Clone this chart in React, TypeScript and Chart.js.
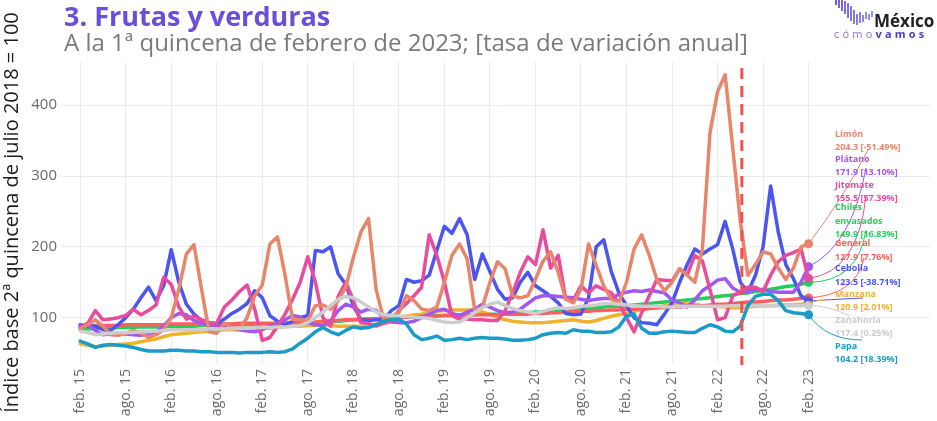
import React, { useEffect, useRef } from 'react';
import { Chart, registerables } from 'chart.js';
Chart.register(...registerables);

// x = month index, 0 = feb. 2015 ... 96 = feb. 2023
const TICK_POS = [0, 6, 12, 18, 24, 30, 36, 42, 48, 54, 60, 66, 72, 78, 84, 90, 96];
const TICK_LABELS = ['feb. 15', 'ago. 15', 'feb. 16', 'ago. 16', 'feb. 17', 'ago. 17', 'feb. 18', 'ago. 18', 'feb. 19', 'ago. 19', 'feb. 20', 'ago. 20', 'feb. 21', 'ago. 21', 'feb. 22', 'ago. 22', 'feb. 23'];
const Y_TICKS = [100, 200, 300, 400];
const DASH_X = 87.2;

const limon = [84, 90, 97, 88, 76, 75, 78, 82, 78, 72,
  76, 83, 100, 140, 190, 203, 140, 80, 78, 92,
  86, 84, 100, 131, 146, 204, 214, 160, 97, 97,
  96, 117, 118, 112, 124, 143, 185, 221, 240, 140,
  97, 102, 107, 131, 124, 112, 110, 115, 150, 188,
  204, 183, 111, 115, 150, 179, 169, 131, 128, 131,
  154, 180, 193, 164, 126, 121, 140, 204, 174, 145,
  126, 121, 150, 197, 217, 188, 154, 138, 150, 169,
  160, 150, 197, 361, 419, 443, 340, 236, 160, 175,
  193, 190, 170, 154, 170, 200, 204.3];
const platano = [88, 90, 82, 76, 77, 78, 77, 76, 75, 77,
  80, 88, 100, 106, 104, 96, 92, 90, 89, 88,
  86, 83, 81, 80, 83, 88, 92, 97, 103, 101,
  93, 90, 89, 95, 110, 119, 115, 108, 112, 110,
  100, 94, 93, 93, 95, 100, 105, 110, 112, 106,
  103, 108, 112, 119, 115, 110, 107, 108, 112, 120,
  128, 131, 131, 130, 129, 128, 126, 124, 126, 127,
  127, 133, 136, 138, 137, 139, 137, 135, 125, 121,
  115, 125, 138, 145, 153, 155, 142, 136, 137, 139,
  140, 137, 136, 136, 136, 150, 171.9];
const jitomate = [86, 92, 110, 97, 98, 100, 103, 112, 104, 110,
  118, 157, 147, 115, 98, 102, 97, 93, 92, 115,
  125, 137, 146, 112, 68, 72, 88, 105, 126, 150,
  186, 150, 100, 88, 130, 150, 125, 93, 92, 88,
  92, 95, 110, 120, 131, 143, 217, 188, 150, 103,
  98, 98, 97, 97, 96, 96, 110, 135, 164, 186,
  175, 224, 170, 188, 126, 125, 145, 135, 145, 140,
  135, 120, 100, 80, 107, 131, 154, 153, 152, 169,
  160, 188, 180, 140, 97, 100, 131, 136, 143, 143,
  137, 160, 179, 188, 192, 197, 155.5];
const chiles = [84, 84, 85, 85, 85, 86, 86, 86, 87, 87,
  87, 87, 88, 88, 88, 88, 89, 89, 89, 89,
  90, 90, 90, 90, 91, 91, 91, 91, 92, 92,
  92, 93, 93, 94, 95, 96, 97, 97, 98, 98,
  99, 100, 100, 101, 101, 102, 102, 103, 103, 103,
  104, 104, 104, 105, 105, 105, 106, 106, 107, 107,
  108, 108, 109, 110, 110, 111, 112, 113, 114, 115,
  116, 116, 117, 118, 119, 120, 121, 122, 123, 124,
  125, 126, 127, 128, 130, 131, 132, 134, 135, 137,
  138, 140, 142, 144, 145, 147, 149.9];
const general = [88, 88, 89, 89, 89, 89, 90, 90, 90, 90,
  90, 90, 91, 91, 91, 91, 91, 91, 91, 91,
  91, 92, 92, 92, 92, 92, 92, 93, 93, 93,
  93, 94, 95, 96, 96, 97, 97, 98, 98, 99,
  99, 100, 100, 101, 101, 102, 102, 102, 103, 103,
  103, 104, 104, 104, 104, 104, 105, 105, 105, 105,
  106, 106, 107, 107, 108, 108, 109, 109, 110, 110,
  111, 111, 112, 112, 113, 113, 114, 114, 115, 115,
  116, 117, 117, 118, 119, 119, 120, 121, 122, 122,
  123, 124, 125, 125, 126, 127, 127.9];
const cebolla = [90, 88, 88, 83, 82, 90, 100, 112, 128, 143,
  124, 145, 196, 150, 119, 105, 96, 93, 91, 98,
  106, 112, 120, 138, 128, 103, 95, 90, 95, 100,
  103, 195, 193, 200, 162, 147, 117, 97, 96, 97,
  97, 110, 117, 154, 150, 152, 160, 195, 229, 219,
  240, 217, 154, 190, 165, 140, 126, 128, 150, 164,
  145, 138, 130, 121, 106, 104, 105, 128, 200, 210,
  165, 135, 117, 100, 93, 92, 90, 105, 121, 150,
  175, 197, 190, 197, 203, 236, 197, 150, 136, 160,
  200, 286, 221, 175, 155, 131, 123.5];
const manzana = [63, 61, 59, 60, 61, 62, 63, 64, 66, 68,
  70, 73, 76, 77, 78, 79, 80, 81, 82, 83,
  83, 83, 83, 84, 85, 85, 86, 87, 88, 88,
  89, 89, 90, 89, 88, 88, 88, 88, 89, 91,
  95, 98, 100, 102, 104, 105, 107, 109, 110, 111,
  111, 111, 110, 108, 105, 100, 97, 95, 94, 93,
  93, 93, 94, 95, 96, 97, 95, 94, 96, 99,
  102, 104, 106, 109, 111, 113, 114, 117, 120, 121,
  120, 119, 117, 116, 116, 115, 114, 114, 115, 116,
  117, 117, 118, 118, 118, 119, 120.9];
const zanahoria = [81, 79, 76, 77, 78, 79, 79, 79, 80, 80,
  81, 82, 83, 83, 83, 83, 83, 84, 84, 84,
  85, 85, 85, 86, 86, 86, 87, 87, 88, 89,
  93, 100, 108, 117, 126, 130, 128, 122, 115, 108,
  104, 103, 102, 102, 101, 100, 99, 96, 94, 93,
  94, 100, 107, 114, 119, 122, 117, 113, 110, 108,
  106, 109, 112, 114, 113, 114, 116, 117, 118, 120,
  120, 119, 118, 117, 116, 116, 116, 115, 115, 116,
  116, 116, 116, 116, 116, 116, 117, 117, 117, 117,
  117, 117, 117, 117, 117, 117, 117.4];
const papa = [67, 63, 58, 61, 62, 61, 60, 58, 55, 53,
  53, 53, 54, 54, 53, 53, 52, 52, 51, 51,
  51, 50, 51, 51, 51, 52, 51, 52, 56, 64,
  71, 80, 86, 80, 76, 82, 87, 85, 86, 90,
  95, 97, 98, 91, 76, 69, 71, 74, 68, 69,
  71, 69, 71, 72, 71, 71, 70, 68, 68, 69,
  71, 76, 78, 79, 78, 83, 81, 81, 79, 79,
  80, 87, 102, 105, 85, 78, 78, 80, 81, 80,
  79, 79, 85, 90, 87, 81, 80, 88, 117, 130,
  133, 133, 124, 110, 107, 106, 104.2];

const SERIES_NAMES = ['Limón', 'Plátano', 'Jitomate', 'Chiles envasados', 'General', 'Cebolla', 'Manzana', 'Zanahoria', 'Papa'];
const SERIES_DATA = [limon, platano, jitomate, chiles, general, cebolla, manzana, zanahoria, papa];
const ANNUAL_RATES = [-51.49, 13.10, 57.39, 16.83, 7.76, -38.71, 2.01, 0.25, 18.39];
const COLORS = ['#E9856B', '#A157F2', '#E94C9C', '#22CF5B', '#FF5E5E', '#4B55F0', '#F0B22E', '#CDCDCD', '#1B9BC8'];
// drawing priority: first = top
const DRAW_ORDER = [8, 7, 0, 2, 1, 5, 4, 6, 3];

// label layout (name line(s) y, value line y) and leader line geometry
const LABEL_X = 835;
const LABEL_NAME_LINES = [['Limón'], ['Plátano'], ['Jitomate'], ['Chiles', 'envasados'], ['General'], ['Cebolla'], ['Manzana'], ['Zanahoria'], ['Papa']];
const LABEL_NAME_Y = [[134], [159], [185], [207, 221], [243], [268], [294], [320], [346]];
const LABEL_VALUE_Y = [147, 172, 198, 234, 257, 282, 307, 333, 359];
const LEADER_END = [[868, 150], [866, 168], [866, 196], [866, 230], [864, 258], [863, 298], [826, 300], [850, 316], [862, 340]];
const LEADER_CTRL = [[842, 200], [852, 245], [858, 272], [858, 282], [856, 295], [840, 299], [818, 300], [830, 306], [826, 340]];

const FONT = '"Open Sans", "DejaVu Sans", sans-serif';

const overlay = {
  id: 'overlay',
  afterDatasetsDraw(chart: any) {
    const ctx = chart.ctx;
    const xs = chart.scales.x;
    const ys = chart.scales.y;
    const area = chart.chartArea;
    ctx.save();
    ctx.strokeStyle = '#F0534E';
    ctx.lineWidth = 3;
    ctx.setLineDash([11, 7]);
    const dx = xs.getPixelForValue(DASH_X);
    ctx.beginPath();
    ctx.moveTo(dx, area.top + 6);
    ctx.lineTo(dx, area.bottom + 2);
    ctx.stroke();
    ctx.restore();

    ctx.save();
    ctx.lineWidth = 1;
    SERIES_DATA.forEach((arr, k) => {
      const last = arr.length - 1;
      const px = xs.getPixelForValue(last);
      const py = ys.getPixelForValue(arr[last]);
      ctx.strokeStyle = COLORS[k];
      ctx.beginPath();
      ctx.moveTo(px, py);
      ctx.quadraticCurveTo(LEADER_CTRL[k][0], LEADER_CTRL[k][1], LEADER_END[k][0], LEADER_END[k][1]);
      ctx.stroke();
    });
    ctx.restore();
  },
  afterDraw(chart: any) {
    const ctx = chart.ctx;
    ctx.save();
    ctx.textBaseline = 'alphabetic';
    ctx.textAlign = 'left';
    ctx.fillStyle = '#6A4FD9';
    ctx.font = `bold 27px ${FONT}`;
    ctx.fillText('3. Frutas y verduras', 64, 26);
    ctx.fillStyle = '#7A7A7A';
    ctx.font = `24px ${FONT}`;
    ctx.fillText('A la 1ª quincena de febrero de 2023; [tasa de variación anual]', 64, 51);

    ctx.textBaseline = 'middle';
    ctx.font = `bold 9px ${FONT}`;
    SERIES_DATA.forEach((arr, k) => {
      ctx.fillStyle = COLORS[k];
      LABEL_NAME_LINES[k].forEach((t, j) => ctx.fillText(t, LABEL_X, LABEL_NAME_Y[k][j]));
      const v = arr[arr.length - 1];
      const r = ANNUAL_RATES[k];
      ctx.fillText(`${v.toFixed(1)} [${r.toFixed(2)}%]`, LABEL_X, LABEL_VALUE_Y[k]);
    });

    const bars = [[835, 0, 5], [838, 0, 8], [841, 0, 11], [844, 1, 14], [847, 3, 18], [850, 6, 21], [853, 10, 24], [856, 14, 25], [859, 12, 23], [862, 15, 22], [865, 12, 19], [868, 14, 20], [871, 11, 17]];
    bars.forEach((b, i) => {
      const t = i / (bars.length - 1);
      const r = Math.round(120 + t * 20);
      const g = Math.round(90 + t * 60);
      const bl = Math.round(225 + t * 15);
      ctx.fillStyle = `rgb(${r},${g},${bl})`;
      ctx.fillRect(b[0], b[1], 2, b[2] - b[1]);
    });
    ctx.fillStyle = '#222';
    ctx.textBaseline = 'alphabetic';
    ctx.font = `bold 17px ${FONT}`;
    ctx.fillText('México', 874, 27);
    let cx = 834;
    ctx.font = `11px ${FONT}`;
    ctx.fillStyle = '#8B6FE3';
    for (const ch of 'cómo') { ctx.fillText(ch, cx, 38); cx += ctx.measureText(ch).width + 3.2; }
    ctx.font = `bold 11px ${FONT}`;
    ctx.fillStyle = '#4B3CC8';
    for (const ch of 'vamos') { ctx.fillText(ch, cx, 38); cx += ctx.measureText(ch).width + 3.2; }
    ctx.restore();
  },
};

export default function App() {
  const ref = useRef<HTMLCanvasElement | null>(null);
  useEffect(() => {
    if (!ref.current) return;
    const datasets = DRAW_ORDER.map((k) => ({
      label: SERIES_NAMES[k],
      data: SERIES_DATA[k].map((v, i) => ({ x: i, y: v })),
      borderColor: COLORS[k],
      backgroundColor: COLORS[k],
      borderWidth: 3.5,
      tension: 0,
      borderJoinStyle: 'round' as const,
      borderCapStyle: 'round' as const,
      pointRadius: (c: any) => (c.dataIndex === SERIES_DATA[k].length - 1 ? 4.5 : 0),
      pointBorderWidth: 0,
      pointHoverRadius: 0,
    }));
    const chart = new Chart(ref.current, {
      type: 'line',
      data: { datasets },
      options: {
        animation: false,
        responsive: false,
        devicePixelRatio: 1,
        layout: { padding: { top: 62, right: 7, left: 0, bottom: 0 } },
        plugins: { legend: { display: false }, tooltip: { enabled: false }, title: { display: false } },
        scales: {
          x: {
            type: 'linear',
            min: -2,
            max: 112,
            afterBuildTicks: (s: any) => { s.ticks = TICK_POS.map((v) => ({ value: v })); },
            afterFit: (s: any) => { s.height = 58; },
            ticks: {
              autoSkip: false,
              minRotation: 90,
              maxRotation: 90,
              color: '#6B6B6B',
              padding: 6,
              font: { family: FONT, size: 14 },
              callback: (v: any) => TICK_LABELS[TICK_POS.indexOf(Number(v))] ?? '',
            },
            grid: { color: '#EBEBEB', lineWidth: 1, drawTicks: false },
            border: { display: false },
          },
          y: {
            min: 36,
            max: 461,
            afterBuildTicks: (s: any) => { s.ticks = Y_TICKS.map((v) => ({ value: v })); },
            afterFit: (s: any) => { s.width = 65; },
            ticks: { color: '#6B6B6B', padding: 4, font: { family: FONT, size: 15 } },
            grid: { color: '#EBEBEB', lineWidth: 1, drawTicks: true, tickLength: 4 },
            border: { display: false },
            title: {
              display: true,
              text: 'Índice base 2ª quincena de julio 2018 = 100',
              color: '#1E1E1E',
              font: { family: FONT, size: 20 },
              padding: { top: 0, bottom: 2 },
            },
          },
        },
      },
      plugins: [overlay],
    });
    return () => chart.destroy();
  }, []);
  return (
    <div style={{ position: 'absolute', left: 0, top: 0, width: 937, height: 421, background: '#fff' }}>
      <canvas ref={ref} width={937} height={421} style={{ width: 937, height: 421, display: 'block' }} />
    </div>
  );
}
